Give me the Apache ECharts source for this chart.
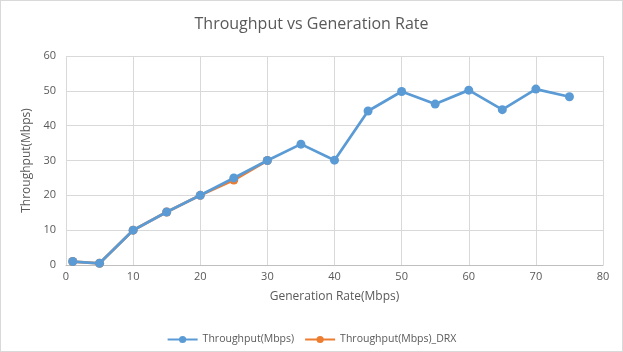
<!DOCTYPE html>
<html>
<head>
<meta charset="utf-8">
<script src="https://cdn.jsdelivr.net/npm/echarts@6/dist/echarts.min.js"></script>
<style>
  html, body { margin: 0; padding: 0; background: #fff; }
  #chart { width: 623px; height: 352px; box-sizing: border-box; border: 1px solid #d9d9d9; }
</style>
</head>
<body>
<div id="chart"></div>
<script>
// generation rate (Mbps)
const rates = [1, 5, 10, 15, 20, 25, 30, 35, 40, 45, 50, 55, 60, 65, 70, 75]
const throughput = [1.0, 0.5, 10.0, 15.2, 20.0, 25.0, 30.0, 34.7, 30.1, 44.2, 49.8, 46.2, 50.2, 44.6, 50.5, 48.3]
const drxRates = [1, 5, 10, 15, 20, 25, 30]
const throughputDrx = [1.0, 0.5, 10.0, 15.2, 20.0, 24.4, 30.0]

const font = '"Open Sans", "Liberation Sans", sans-serif'

const chart = echarts.init(document.getElementById('chart'))
const option = {
  animation: false,
  title: {
    text: 'Throughput vs Generation Rate',
    left: 'center',
    top: 10,
    textStyle: { color: '#595959', fontSize: 16, fontWeight: 'normal', fontFamily: font }
  },
  legend: {
    bottom: 1,
    itemWidth: 30,
    itemHeight: 9,
    itemGap: 10,
    textStyle: { color: '#595959', fontSize: 10.5, fontFamily: font },
    data: ['Throughput(Mbps)', 'Throughput(Mbps)_DRX']
  },
  grid: { left: 65, right: 19, top: 55, bottom: 86 },
  xAxis: {
    type: 'value',
    min: 0, max: 80, interval: 10,
    name: 'Generation Rate(Mbps)',
    nameLocation: 'middle',
    nameGap: 26,
    nameTextStyle: { color: '#595959', fontSize: 12, fontFamily: font },
    axisLine: { lineStyle: { color: '#bfbfbf' } },
    axisTick: { show: false },
    axisLabel: { color: '#595959', fontSize: 11, fontFamily: font, margin: 6 },
    splitLine: { lineStyle: { color: '#d9d9d9' } }
  },
  yAxis: {
    type: 'value',
    min: 0, max: 60, interval: 10,
    name: 'Throughput(Mbps)',
    nameLocation: 'middle',
    nameGap: 32,
    nameTextStyle: { color: '#595959', fontSize: 12, fontFamily: font },
    axisLine: { show: false },
    axisTick: { show: false },
    axisLabel: { color: '#595959', fontSize: 11, fontFamily: font, margin: 10 },
    splitLine: { lineStyle: { color: '#d9d9d9' } }
  },
  series: [
    {
      name: 'Throughput(Mbps)_DRX',
      type: 'line',
      symbol: 'circle',
      symbolSize: 9,
      color: '#ED7D31',
      lineStyle: { width: 2.75 },
      z: 2,
      data: drxRates.map((r, i) => [r, throughputDrx[i]])
    },
    {
      name: 'Throughput(Mbps)',
      type: 'line',
      symbol: 'circle',
      symbolSize: 9,
      color: '#5B9BD5',
      lineStyle: { width: 2.75 },
      z: 3,
      data: rates.map((r, i) => [r, throughput[i]])
    }
  ]
}
chart.setOption(option)
</script>
</body>
</html>
